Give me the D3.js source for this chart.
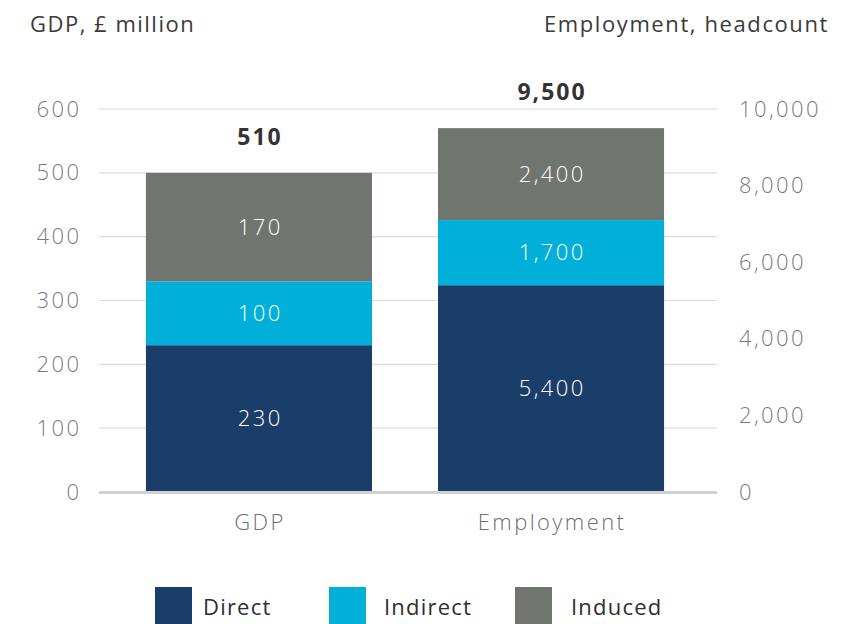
<!DOCTYPE html>
<html>
<head>
<meta charset="utf-8">
<script src="https://cdn.jsdelivr.net/npm/d3@7"></script>
<style>
  html, body { margin: 0; padding: 0; background: #fff; }
  svg { display: block; font-family: "Open Sans", "Noto Sans", sans-serif; }
</style>
</head>
<body>
<svg id="chart" width="848" height="624"></svg>
<script>
// Categories and stacked components
const categories = ["GDP", "Employment"];
const seriesNames = ["Direct", "Indirect", "Induced"];
const direct   = [230, 5400];
const indirect = [100, 1700];
const induced  = [170, 2400];
const totalLabels = ["510", "9,500"];
const valueLabels = [["230", "5,400"], ["100", "1,700"], ["170", "2,400"]];

const leftTicks  = [0, 100, 200, 300, 400, 500, 600];
const rightTicks = [0, 2000, 4000, 6000, 8000, 10000];

const colors = { Direct: "#1b3d69", Indirect: "#00b0d8", Induced: "#717570" };
const FONT = "'Open Sans', 'Noto Sans', sans-serif";
const LS_NUM = 2.4;   // wide tracking for numerals

const svg = d3.select("#chart");

const yLeft  = d3.scaleLinear().domain([0, 600]).range([492, 109]);
const yRight = d3.scaleLinear().domain([0, 10000]).range([492, 109]);
// each category uses its own axis
const yFor = i => (i === 0 ? yLeft : yRight);

const x = d3.scaleBand().domain(categories).range([96, 714])
  .paddingInner(0.226).paddingOuter(0.171);

const gridX0 = 99, gridX1 = 717;

// gridlines
svg.append("g").selectAll("line")
  .data(leftTicks.filter(d => d > 0))
  .join("line")
  .attr("x1", gridX0).attr("x2", gridX1)
  .attr("y1", d => yLeft(d)).attr("y2", d => yLeft(d))
  .attr("stroke", "#dcdcdc").attr("stroke-width", 1.2);

// left axis labels (trailing tracking compensated)
const leftAxis = d3.axisLeft(yLeft).tickValues(leftTicks).tickSize(0).tickPadding(0)
  .tickFormat(d3.format("d"));
const gL = svg.append("g").attr("transform", `translate(${79 + LS_NUM},0)`).call(leftAxis);
gL.select(".domain").remove();
gL.selectAll("text").attr("font-size", 22).attr("font-weight", 300)
  .attr("letter-spacing", LS_NUM + "px")
  .attr("fill", "#7b7b7b").attr("font-family", FONT);

// right axis labels
const rightAxis = d3.axisRight(yRight).tickValues(rightTicks).tickSize(0).tickPadding(0)
  .tickFormat(d3.format(","));
const gR = svg.append("g").attr("transform", "translate(739,0)").call(rightAxis);
gR.select(".domain").remove();
gR.selectAll("text").attr("font-size", 22).attr("font-weight", 300)
  .attr("letter-spacing", LS_NUM + "px")
  .attr("fill", "#7b7b7b").attr("font-family", FONT);

// stacked bars
const rows = categories.map((c, i) => ({
  cat: c, Direct: direct[i], Indirect: indirect[i], Induced: induced[i], idx: i
}));
const stack = d3.stack().keys(seriesNames)(rows);

stack.forEach((layer, li) => {
  const g = svg.append("g");
  g.selectAll("rect").data(layer).join("rect")
    .attr("x", d => x(d.data.cat))
    .attr("width", x.bandwidth())
    .attr("y", d => yFor(d.data.idx)(d[1]))
    .attr("height", d => yFor(d.data.idx)(d[0]) - yFor(d.data.idx)(d[1]))
    .attr("fill", colors[layer.key]);
  g.selectAll("text").data(layer).join("text")
    .attr("x", d => x(d.data.cat) + x.bandwidth() / 2 + LS_NUM / 2)
    .attr("y", d => (yFor(d.data.idx)(d[0]) + yFor(d.data.idx)(d[1])) / 2)
    .attr("dy", "0.35em")
    .attr("text-anchor", "middle")
    .attr("font-size", 22).attr("font-weight", 300)
    .attr("letter-spacing", LS_NUM + "px")
    .attr("fill", "#ffffff")
    .text((d, i) => valueLabels[li][i]);
});

// baseline
svg.append("line")
  .attr("x1", gridX0).attr("x2", gridX1)
  .attr("y1", yLeft(0) + 0.5).attr("y2", yLeft(0) + 0.5)
  .attr("stroke", "#d2d2d2").attr("stroke-width", 3);

// totals above bars
const topLayer = stack[stack.length - 1];
svg.append("g").selectAll("text").data(topLayer).join("text")
  .attr("x", d => x(d.data.cat) + x.bandwidth() / 2 + 1)
  .attr("y", d => yFor(d.data.idx)(d[1]) - 28)
  .attr("text-anchor", "middle")
  .attr("font-size", 23).attr("font-weight", 700)
  .attr("letter-spacing", "2px")
  .attr("fill", "#333333")
  .text((d, i) => totalLabels[i]);

// category labels
svg.append("g").selectAll("text").data(categories).join("text")
  .attr("x", d => x(d) + x.bandwidth() / 2 + 1)
  .attr("y", 530)
  .attr("text-anchor", "middle")
  .attr("font-size", 22).attr("font-weight", 300)
  .attr("letter-spacing", "2.4px")
  .attr("fill", "#6e6e6e")
  .text(d => d);

// axis titles
svg.append("text").attr("x", 30).attr("y", 32)
  .attr("font-size", 22).attr("font-weight", 400).attr("fill", "#3a3a3a")
  .attr("letter-spacing", "1.5px")
  .text("GDP, £ million");
svg.append("text").attr("x", 829).attr("y", 32).attr("text-anchor", "end")
  .attr("font-size", 22).attr("font-weight", 400).attr("fill", "#3a3a3a")
  .attr("letter-spacing", "1.6px")
  .text("Employment, headcount");

// legend
const legendX = [155, 329, 515];
const legendTextX = [203, 384, 571];
const lg = svg.append("g").selectAll("g").data(seriesNames).join("g");
lg.append("rect")
  .attr("x", (d, i) => legendX[i]).attr("y", 587)
  .attr("width", 37).attr("height", 40).attr("fill", d => colors[d]);
lg.append("text")
  .attr("x", (d, i) => legendTextX[i]).attr("y", 615)
  .attr("font-size", 22).attr("font-weight", 400).attr("fill", "#2e2e2e")
  .attr("letter-spacing", "1.2px")
  .text(d => d);
</script>
</body>
</html>
